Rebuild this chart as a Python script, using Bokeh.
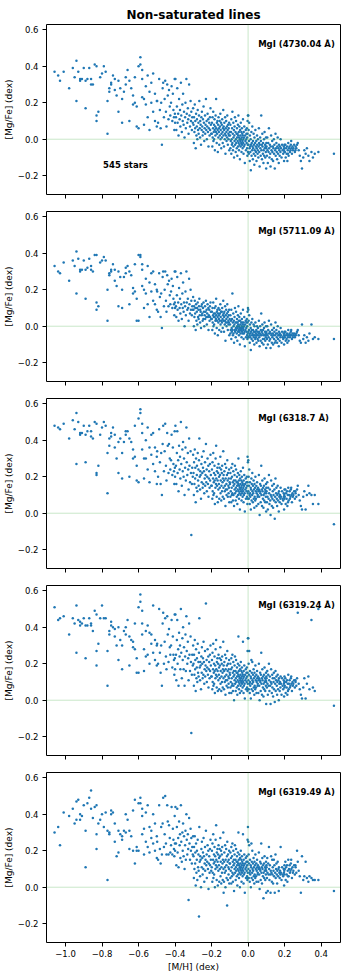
from bokeh.plotting import figure
from bokeh.layouts import column
from bokeh.models import Range1d, FixedTicker, Span, Label
from bokeh.embed import file_html
from bokeh.resources import INLINE

# [M/H] of each star (shared by all panels)
mh = [
    -1.06, -1.04, -1.03, -1.01,
    -0.98, -0.96, -0.95, -0.94, -0.94, -0.93, -0.92, -0.92, -0.91, -0.90,
    -0.89, -0.89, -0.88, -0.87, -0.86, -0.86, -0.85, -0.84, -0.83, -0.83, -0.83, -0.82, -0.81, -0.80,
    -0.79, -0.78, -0.77, -0.77, -0.76, -0.76, -0.75, -0.75, -0.74, -0.73, -0.73, -0.72, -0.71, -0.71, -0.70,
    -0.69, -0.69, -0.68, -0.67, -0.67, -0.66, -0.65, -0.65, -0.64, -0.63, -0.63, -0.62, -0.62, -0.61, -0.61, -0.60,
    -0.60, -0.59, -0.59, -0.58, -0.58, -0.58, -0.57, -0.57, -0.56, -0.56, -0.55, -0.55, -0.54, -0.54, -0.53, -0.53, -0.52, -0.52, -0.51, -0.51, -0.50, -0.50,
    -0.498, -0.493, -0.487, -0.483, -0.479, -0.476, -0.472, -0.468, -0.465, -0.461, -0.457, -0.454, -0.450, -0.447, -0.443, -0.440, -0.436, -0.433, -0.429, -0.426, -0.422, -0.419, -0.415, -0.412, -0.409, -0.406, -0.404, -0.402, -0.401, -0.400,
    -0.398, -0.395, -0.393, -0.390, -0.388, -0.386, -0.383, -0.381, -0.378, -0.375,
    -0.373, -0.371, -0.368, -0.366, -0.363, -0.360, -0.358, -0.356, -0.353, -0.351,
    -0.348, -0.345, -0.343, -0.341, -0.338, -0.336, -0.333, -0.330, -0.328, -0.326,
    -0.323, -0.321, -0.318, -0.315, -0.313, -0.311, -0.308, -0.306, -0.303, -0.301,
    -0.299, -0.297, -0.296, -0.294, -0.292, -0.290, -0.289, -0.287, -0.285, -0.283,
    -0.281, -0.280, -0.278, -0.276, -0.274, -0.272, -0.271, -0.269, -0.267, -0.265,
    -0.263, -0.262, -0.260, -0.258, -0.256, -0.254, -0.253, -0.251, -0.249, -0.247,
    -0.245, -0.244, -0.242, -0.240, -0.238, -0.236, -0.235, -0.233, -0.231, -0.229,
    -0.227, -0.226, -0.224, -0.222, -0.220, -0.218, -0.217, -0.215, -0.213, -0.211,
    -0.209, -0.208, -0.206, -0.204, -0.202,
    -0.199, -0.198, -0.196, -0.195, -0.194, -0.192, -0.191, -0.190, -0.188, -0.187,
    -0.186, -0.184, -0.183, -0.182, -0.180, -0.179, -0.178, -0.176, -0.175, -0.174,
    -0.172, -0.171, -0.170, -0.168, -0.167, -0.166, -0.164, -0.163, -0.162, -0.160,
    -0.159, -0.158, -0.156, -0.155, -0.154, -0.152, -0.151, -0.150, -0.148, -0.147,
    -0.146, -0.144, -0.143, -0.142, -0.140, -0.139, -0.138, -0.136, -0.135, -0.134,
    -0.132, -0.131, -0.130, -0.128, -0.127, -0.126, -0.124, -0.123, -0.122, -0.120,
    -0.119, -0.118, -0.116, -0.115, -0.114, -0.112, -0.111, -0.110, -0.108, -0.107,
    -0.106, -0.105, -0.104, -0.103, -0.101,
    -0.099, -0.097, -0.097, -0.095, -0.094, -0.092, -0.092, -0.090, -0.089, -0.088,
    -0.086, -0.086, -0.084, -0.083, -0.081, -0.080, -0.080, -0.078, -0.077, -0.075,
    -0.074, -0.074, -0.072, -0.071, -0.069, -0.068, -0.067, -0.066, -0.065, -0.063,
    -0.062, -0.061, -0.060, -0.059, -0.058, -0.057, -0.056, -0.055, -0.054, -0.053,
    -0.052, -0.051, -0.050, -0.049, -0.048, -0.047, -0.046, -0.045, -0.044, -0.043,
    -0.042, -0.041, -0.040, -0.039, -0.038, -0.037, -0.036, -0.035, -0.034, -0.033,
    -0.032, -0.031, -0.030, -0.029, -0.028, -0.027, -0.026, -0.025, -0.024, -0.023,
    -0.022, -0.021, -0.019, -0.018, -0.016, -0.015, -0.013, -0.012, -0.010, -0.009,
    -0.008, -0.007, -0.006, -0.005, -0.004, -0.003, -0.003, -0.002, -0.001, -0.001,
    0.001, 0.002, 0.003, 0.004, 0.005, 0.006, 0.008, 0.009, 0.010, 0.011,
    0.012, 0.014, 0.015, 0.016, 0.018, 0.019, 0.020, 0.022, 0.023, 0.024,
    0.026, 0.027, 0.028, 0.030, 0.031, 0.032, 0.034, 0.035, 0.036, 0.038,
    0.039, 0.040, 0.042, 0.043, 0.045, 0.046, 0.047, 0.049, 0.050, 0.052,
    0.053, 0.054, 0.056, 0.057, 0.059, 0.060, 0.061, 0.063, 0.064, 0.066,
    0.067, 0.069, 0.070, 0.072, 0.073, 0.075, 0.076, 0.078, 0.079, 0.081,
    0.082, 0.084, 0.085, 0.087, 0.088, 0.090, 0.091, 0.093, 0.094, 0.096,
    0.097, 0.098, 0.099, 0.099, 0.100,
    0.101, 0.103, 0.105, 0.106, 0.108, 0.110, 0.112, 0.114, 0.115, 0.117,
    0.119, 0.121, 0.123, 0.124, 0.126, 0.128, 0.130, 0.132, 0.133, 0.135,
    0.137, 0.139, 0.141, 0.142, 0.144, 0.146, 0.148, 0.150, 0.151, 0.153,
    0.155, 0.157, 0.159, 0.160, 0.162, 0.164, 0.166, 0.168, 0.169, 0.171,
    0.173, 0.175, 0.177, 0.178, 0.180, 0.183, 0.186, 0.189, 0.192, 0.195,
    0.196, 0.197, 0.198, 0.199, 0.199,
    0.201, 0.204, 0.206, 0.208, 0.211, 0.213, 0.215, 0.217, 0.220, 0.222,
    0.224, 0.227, 0.229, 0.232, 0.234, 0.237, 0.240, 0.243, 0.245, 0.248,
    0.252, 0.256, 0.260, 0.264, 0.268, 0.272, 0.277, 0.283, 0.289, 0.295,
    0.218, 0.236, 0.259,
    0.302, 0.308, 0.315, 0.322, 0.330, 0.336, 0.347, 0.355, 0.365, 0.385,
    0.47,
]

# [Mg/Fe] from MgI 4730.04 A
mgfe_4730 = [
    0.37, 0.35, 0.32, 0.37,
    0.28, 0.39, 0.34, 0.21, 0.43, 0.37, 0.33, 0.32, 0.33, 0.39,
    0.17, 0.32, 0.33, 0.39, 0.30, 0.33, 0.30, 0.41, 0.40, 0.13, 0.10, 0.15, 0.34, 0.36,
    0.40, 0.37, 0.03, 0.21, 0.26, 0.28, 0.30, 0.31, 0.35, 0.27, 0.33, 0.24, 0.15, 0.32, 0.28,
    0.22, 0.09, 0.26, 0.34, 0.30, 0.38, 0.32, 0.10, 0.28, 0.24, 0.19, 0.20, 0.34, 0.18, 0.07, 0.40,
    0.06, 0.45, 0.41, 0.38, 0.33, 0.23, 0.22, 0.08, 0.29, 0.19, 0.35, 0.12, 0.26, 0.05, 0.31, 0.20, 0.15, 0.36, 0.10, 0.25, 0.21, 0.07,
    0.21, 0.09, 0.33, 0.16, 0.06, 0.20, -0.03, 0.28, 0.31, 0.12, 0.22, 0.32, 0.15, 0.07, 0.30, 0.24, 0.11, 0.27, 0.18, 0.13, 0.20, 0.29, 0.10, 0.25, 0.16, 0.12, 0.05, 0.33, 0.14, 0.09,
    0.33, 0.12, 0.05, 0.18, 0.28, 0.09, 0.14, 0.02, 0.22, 0.11,
    0.16, 0.07, 0.31, 0.13, 0.04, 0.19, 0.10, 0.25, 0.08, 0.15,
    0.01, 0.12, 0.20, 0.06, 0.33, 0.14, 0.09, 0.17, 0.11, 0.03,
    0.30, 0.13, 0.07, 0.21, 0.10, 0.15, 0.05, 0.12, 0.09, 0.17,
    0.08, -0.02, 0.12, 0.04, 0.19, 0.06, 0.10, -0.05, 0.14, 0.02,
    0.07, 0.11, 0.00, 0.16, 0.05, 0.09, 0.03, 0.13, 0.21, 0.06,
    0.01, 0.10, 0.08, -0.03, 0.12, 0.05, 0.15, 0.07, 0.02, 0.11,
    0.04, 0.18, 0.09, -0.01, 0.06, 0.13, 0.03, 0.08, 0.22, 0.05,
    0.10, 0.00, 0.07, 0.14, 0.04, 0.11, -0.04, 0.06, 0.09, 0.02,
    0.12, 0.05, 0.17, 0.08, 0.03,
    0.03, 0.09, -0.04, 0.12, 0.01, 0.06, 0.15, -0.01, 0.04, 0.08,
    0.00, 0.11, 0.05, -0.06, 0.07, 0.02, 0.13, 0.04, 0.22, 0.06,
    -0.02, 0.09, 0.03, 0.10, 0.05, -0.07, 0.08, 0.01, 0.12, 0.04,
    0.06, -0.03, 0.10, 0.02, 0.07, 0.14, 0.00, 0.05, 0.09, -0.05,
    0.03, 0.08, 0.01, 0.11, 0.04, -0.02, 0.06, 0.16, 0.02, 0.07,
    -0.04, 0.05, 0.09, 0.00, 0.03, 0.12, -0.08, 0.06, 0.02, 0.10,
    0.04, -0.01, 0.07, 0.01, 0.13, 0.05, -0.03, 0.08, 0.03, 0.00,
    0.06, 0.02, 0.09, -0.06, 0.04,
    0.02, -0.05, 0.08, -0.01, 0.04, -0.08, 0.11, 0.00, -0.03, 0.06,
    0.15, -0.02, 0.03, -0.06, 0.09, 0.01, -0.04, 0.05, -0.10, 0.02,
    0.07, -0.01, 0.12, -0.03, 0.04, -0.07, 0.00, 0.10, -0.02, 0.03,
    -0.05, 0.06, 0.01, -0.09, 0.03, -0.01, 0.08, -0.04, 0.02, 0.13,
    -0.02, 0.04, -0.06, 0.01, 0.07, -0.03, 0.00, -0.11, 0.05, -0.01,
    0.02, -0.04, 0.09, 0.00, -0.02, 0.04, -0.07, 0.01, 0.06, -0.03,
    0.03, -0.01, -0.05, 0.02, 0.11, -0.02, 0.00, -0.08, 0.04, -0.04,
    0.01, 0.07, -0.03, -0.13, 0.02, -0.01, 0.05, -0.06, 0.00, 0.03,
    -0.02, 0.06, -0.05, 0.01, -0.09, 0.03, 0.10, -0.03, 0.13, -0.07,
    0.13, -0.03, 0.05, -0.08, -0.01, 0.09, -0.05, -0.12, 0.02, -0.04,
    -0.07, 0.00, -0.17, -0.03, 0.04, -0.09, -0.02, -0.06, 0.07, -0.04,
    -0.11, -0.01, -0.05, 0.03, -0.08, -0.03, -0.14, 0.01, -0.06, -0.02,
    -0.09, 0.05, -0.04, -0.07, -0.01, -0.12, -0.05, 0.02, -0.03, -0.08,
    -0.06, 0.00, -0.10, -0.04, 0.06, -0.02, -0.07, -0.15, -0.03, 0.01,
    -0.05, -0.09, -0.01, 0.13, -0.06, -0.03, -0.11, 0.03, -0.04, -0.08,
    -0.02, -0.13, -0.06, 0.00, -0.09, 0.04, -0.05, -0.03, -0.10, -0.04,
    -0.07, 0.01, -0.16, -0.05, -0.02,
    -0.04, -0.09, 0.01, -0.06, -0.13, -0.02, -0.07, 0.06, -0.05, -0.10,
    -0.03, -0.08, -0.15, -0.04, 0.02, -0.06, -0.11, -0.01, -0.07, -0.04,
    -0.12, -0.05, 0.00, -0.08, -0.03, -0.16, -0.06, 0.03, -0.09, -0.05,
    -0.02, -0.07, -0.11, -0.04, 0.01, -0.08, -0.05, -0.13, -0.03, -0.06,
    -0.09, -0.04, -0.07, 0.00, -0.05, -0.10, -0.03, -0.06, -0.08, -0.04,
    -0.06, -0.12, -0.05, -0.03, -0.07,
    -0.07, -0.03, -0.10, -0.05, -0.08, -0.04, -0.12, -0.06, -0.02, -0.09,
    -0.05, -0.04, -0.07, -0.06, -0.03, -0.05, -0.08, -0.04, -0.06, -0.05,
    -0.03, -0.07, -0.04, -0.05, -0.03, -0.02, -0.06, -0.09, -0.12, -0.16,
    -0.08, -0.01, -0.06,
    -0.10, -0.06, -0.08, -0.05, -0.09, -0.12, -0.07, -0.10, -0.08, -0.07,
    -0.08,
]

# [Mg/Fe] from MgI 5711.09 A
mgfe_5711 = [
    0.33, 0.30, 0.29, 0.35,
    0.25, 0.36, 0.33, 0.18, 0.41, 0.37, 0.31, 0.30, 0.31, 0.36,
    0.15, 0.31, 0.32, 0.37, 0.31, 0.33, 0.30, 0.39, 0.39, 0.13, 0.09, 0.11, 0.35, 0.36,
    0.38, 0.36, 0.03, 0.20, 0.28, 0.29, 0.30, 0.31, 0.34, 0.25, 0.31, 0.22, 0.11, 0.30, 0.27,
    0.20, 0.10, 0.27, 0.32, 0.29, 0.33, 0.30, 0.12, 0.28, 0.21, 0.18, 0.19, 0.34, 0.15, 0.03, 0.39,
    0.03, 0.39, 0.38, 0.34, 0.31, 0.22, 0.20, 0.10, 0.26, 0.18, 0.33, 0.12, 0.24, 0.05, 0.29, 0.19, 0.14, 0.30, 0.12, 0.23, 0.20, 0.09,
    0.19, 0.08, 0.29, 0.16, 0.05, 0.18, -0.01, 0.27, 0.30, 0.11, 0.20, 0.30, 0.14, 0.08, 0.28, 0.23, 0.11, 0.25, 0.17, 0.12, 0.19, 0.26, 0.10, 0.22, 0.15, 0.12, 0.06, 0.30, 0.13, 0.10,
    0.30, 0.11, 0.05, 0.17, 0.27, 0.09, 0.13, 0.03, 0.21, 0.10,
    0.15, 0.07, 0.29, 0.12, 0.04, 0.18, 0.10, 0.24, 0.08, 0.13,
    0.00, 0.11, 0.19, 0.06, 0.30, 0.13, 0.09, 0.15, 0.10, 0.03,
    0.26, 0.12, 0.07, 0.20, 0.09, 0.14, 0.06, 0.11, 0.09, 0.16,
    0.09, 0.00, 0.11, 0.05, 0.14, 0.07, 0.10, -0.02, 0.12, 0.03,
    0.08, 0.10, 0.01, 0.13, 0.05, 0.09, 0.04, 0.11, 0.15, 0.06,
    0.02, 0.09, 0.08, -0.01, 0.11, 0.06, 0.12, 0.07, 0.03, 0.10,
    0.04, 0.13, 0.08, 0.00, 0.06, 0.11, 0.04, 0.08, 0.14, 0.05,
    0.09, 0.01, 0.07, 0.12, 0.05, 0.10, -0.02, 0.06, 0.09, 0.03,
    0.11, 0.05, 0.13, 0.08, 0.04,
    0.04, 0.08, -0.02, 0.10, 0.02, 0.06, 0.13, 0.00, 0.05, 0.07,
    0.01, 0.10, 0.05, -0.04, 0.07, 0.03, 0.11, 0.04, 0.15, 0.06,
    -0.01, 0.08, 0.03, 0.09, 0.05, -0.05, 0.07, 0.02, 0.10, 0.04,
    0.06, -0.02, 0.09, 0.03, 0.07, 0.12, 0.01, 0.05, 0.08, -0.03,
    0.03, 0.08, 0.02, 0.10, 0.04, -0.01, 0.06, 0.14, 0.03, 0.07,
    -0.03, 0.05, 0.08, 0.01, 0.03, 0.11, -0.08, 0.06, 0.02, 0.09,
    0.04, 0.00, 0.07, 0.02, 0.12, 0.05, -0.02, 0.08, 0.03, 0.01,
    0.06, 0.02, 0.09, -0.05, 0.04,
    0.01, -0.04, 0.06, -0.02, 0.03, -0.07, 0.09, -0.01, -0.03, 0.04,
    0.18, -0.02, 0.02, -0.05, 0.07, 0.00, -0.04, 0.03, -0.09, 0.01,
    0.05, -0.02, 0.10, -0.03, 0.02, -0.06, -0.01, 0.08, -0.02, 0.02,
    -0.04, 0.04, 0.00, -0.08, 0.02, -0.01, 0.06, -0.03, 0.01, 0.11,
    -0.02, 0.03, -0.05, 0.00, 0.05, -0.03, -0.01, -0.10, 0.03, -0.02,
    0.01, -0.04, 0.07, -0.01, -0.02, 0.02, -0.06, 0.00, 0.04, -0.03,
    0.02, -0.01, -0.04, 0.01, 0.09, -0.02, -0.01, -0.07, 0.02, -0.04,
    0.00, 0.05, -0.03, -0.11, 0.01, -0.02, 0.03, -0.06, -0.01, 0.02,
    -0.03, 0.04, -0.05, 0.00, -0.07, 0.02, 0.08, -0.04, 0.10, -0.06,
    0.09, -0.03, 0.03, -0.06, -0.02, 0.06, -0.05, -0.09, 0.01, -0.04,
    -0.06, -0.01, -0.13, -0.03, 0.02, -0.07, -0.02, -0.05, 0.04, -0.04,
    -0.08, -0.02, -0.05, 0.01, -0.06, -0.03, -0.10, 0.00, -0.05, -0.03,
    -0.07, 0.02, -0.04, -0.06, -0.02, -0.09, -0.05, 0.00, -0.03, -0.07,
    -0.05, -0.01, -0.08, -0.04, 0.03, -0.03, -0.06, -0.11, -0.04, 0.00,
    -0.05, -0.08, -0.02, 0.07, -0.05, -0.03, -0.09, 0.01, -0.04, -0.07,
    -0.02, -0.10, -0.05, -0.01, -0.07, 0.02, -0.05, -0.03, -0.08, -0.04,
    -0.06, 0.00, -0.12, -0.05, -0.03,
    -0.04, -0.07, 0.00, -0.05, -0.10, -0.02, -0.06, 0.03, -0.04, -0.08,
    -0.03, -0.07, -0.12, -0.04, 0.01, -0.05, -0.09, -0.02, -0.06, -0.04,
    -0.10, -0.05, -0.01, -0.07, -0.03, -0.09, -0.05, 0.02, -0.08, -0.04,
    -0.02, -0.06, -0.09, -0.04, 0.00, -0.07, -0.05, -0.11, -0.03, -0.05,
    -0.08, -0.04, -0.06, -0.01, -0.05, -0.09, -0.03, -0.06, -0.07, -0.04,
    -0.05, -0.10, -0.04, -0.03, -0.06,
    -0.06, -0.03, -0.08, -0.05, -0.07, -0.04, -0.09, -0.05, -0.02, -0.08,
    -0.05, -0.04, -0.06, -0.05, -0.03, -0.05, -0.07, -0.04, -0.06, -0.05,
    -0.04, -0.06, -0.05, -0.04, -0.03, -0.02, -0.05, -0.08, -0.09, 0.01,
    -0.06, -0.02, -0.05,
    -0.07, -0.05, -0.09, -0.06, -0.08, -0.04, 0.01, -0.07, -0.06, -0.07,
    -0.07,
]

# [Mg/Fe] from MgI 6318.7 A
mgfe_6318 = [
    0.48, 0.47, 0.46, 0.49,
    0.41, 0.51, 0.46, 0.27, 0.55, 0.50, 0.43, 0.44, 0.44, 0.48,
    0.28, 0.43, 0.45, 0.48, 0.42, 0.45, 0.41, 0.50, 0.49, 0.22, 0.21, 0.26, 0.43, 0.47,
    0.50, 0.48, 0.11, 0.33, 0.37, 0.41, 0.42, 0.44, 0.47, 0.36, 0.43, 0.30, 0.22, 0.39, 0.41,
    0.33, 0.19, 0.39, 0.45, 0.43, 0.45, 0.41, 0.20, 0.39, 0.35, 0.30, 0.31, 0.48, 0.26, 0.18, 0.52,
    0.17, 0.57, 0.55, 0.49, 0.44, 0.35, 0.30, 0.19, 0.40, 0.30, 0.47, 0.24, 0.36, 0.17, 0.43, 0.32, 0.27, 0.44, 0.23, 0.36, 0.31, 0.16,
    0.34, 0.20, 0.46, 0.28, 0.16, 0.33, 0.10, 0.38, 0.48, 0.23, 0.34, 0.49, 0.26, 0.18, 0.44, 0.37, 0.22, 0.38, 0.30, 0.24, 0.29, 0.43, 0.21, 0.36, 0.27, 0.23, 0.16, 0.45, 0.25, 0.20,
    0.48, 0.26, 0.16, 0.33, 0.45, 0.22, 0.29, 0.12, 0.37, 0.24,
    0.31, 0.19, 0.50, 0.27, 0.15, 0.35, 0.23, 0.39, 0.20, 0.30,
    0.10, 0.25, 0.36, 0.18, 0.47, 0.28, 0.21, 0.33, 0.24, 0.13,
    0.41, 0.26, 0.17, 0.34, 0.22, -0.12, 0.16, 0.25, 0.20, 0.32,
    0.22, 0.10, 0.28, 0.16, 0.35, 0.19, 0.25, 0.06, 0.30, 0.14,
    0.21, 0.26, 0.12, 0.33, 0.18, 0.24, 0.15, 0.29, 0.41, 0.20,
    0.13, 0.23, 0.21, 0.08, 0.27, 0.17, 0.31, 0.22, 0.14, 0.25,
    0.16, 0.34, 0.23, 0.11, 0.19, 0.28, 0.15, 0.21, 0.38, 0.17,
    0.24, 0.12, 0.20, 0.30, 0.16, 0.26, 0.09, 0.19, 0.23, 0.14,
    0.27, 0.18, 0.32, 0.21, 0.15,
    0.15, 0.24, 0.08, 0.28, 0.12, 0.19, 0.33, 0.10, 0.17, 0.22,
    0.11, 0.26, 0.18, 0.05, 0.21, 0.14, 0.30, 0.16, 0.37, 0.19,
    0.09, 0.23, 0.15, 0.25, 0.18, 0.06, 0.22, 0.13, 0.27, 0.16,
    0.20, 0.08, 0.25, 0.14, 0.21, 0.31, 0.11, 0.18, 0.24, 0.07,
    0.15, 0.22, 0.12, 0.26, 0.17, 0.09, 0.19, 0.34, 0.14, 0.21,
    0.08, 0.18, 0.23, 0.12, 0.15, 0.27, 0.04, 0.19, 0.13, 0.25,
    0.16, 0.10, 0.21, 0.13, 0.29, 0.18, 0.09, 0.22, 0.15, 0.11,
    0.19, 0.14, 0.24, 0.06, 0.17,
    0.16, 0.09, 0.22, 0.12, 0.19, 0.06, 0.25, 0.14, 0.10, 0.20,
    0.27, 0.11, 0.17, 0.07, 0.23, 0.15, 0.10, 0.18, 0.04, 0.16,
    0.21, 0.13, 0.26, 0.11, 0.18, 0.07, 0.14, 0.24, 0.12, 0.17,
    0.09, 0.20, 0.15, 0.05, 0.17, 0.13, 0.22, 0.10, 0.16, 0.30,
    0.12, 0.18, 0.08, 0.15, 0.21, 0.11, 0.14, 0.02, 0.19, 0.13,
    0.16, 0.10, 0.23, 0.14, 0.12, 0.18, 0.07, 0.15, 0.20, 0.11,
    0.17, 0.13, 0.09, 0.16, 0.25, 0.12, 0.14, 0.06, 0.18, 0.10,
    0.15, 0.21, 0.11, 0.01, 0.16, 0.13, 0.19, 0.08, 0.14, 0.17,
    0.12, 0.20, 0.09, 0.15, 0.05, 0.17, 0.31, 0.11, 0.28, 0.08,
    0.29, 0.12, 0.20, 0.08, 0.15, 0.24, 0.10, 0.05, 0.17, 0.11,
    0.09, 0.14, 0.02, 0.13, 0.19, 0.07, 0.16, 0.10, 0.22, 0.12,
    0.06, 0.15, 0.11, 0.18, 0.08, 0.13, 0.03, 0.16, 0.09, 0.14,
    0.07, 0.20, 0.12, 0.08, 0.15, 0.04, 0.11, 0.17, 0.13, 0.09,
    0.10, 0.14, 0.05, 0.12, 0.21, 0.13, 0.09, -0.01, 0.12, 0.16,
    0.11, 0.06, 0.15, 0.26, 0.10, 0.13, 0.04, 0.18, 0.12, 0.08,
    0.14, 0.03, 0.10, 0.15, 0.07, 0.19, 0.11, 0.13, 0.06, 0.12,
    0.09, 0.16, 0.01, 0.11, 0.14,
    0.12, 0.06, 0.17, 0.09, 0.02, 0.14, 0.08, 0.21, 0.11, 0.05,
    0.13, 0.07, -0.01, 0.10, 0.18, 0.09, 0.04, 0.15, 0.08, 0.12,
    0.03, 0.10, 0.16, 0.07, 0.13, -0.03, 0.09, 0.19, 0.06, 0.11,
    0.14, 0.08, 0.04, 0.10, 0.15, 0.07, 0.11, 0.01, 0.12, 0.09,
    0.06, 0.10, 0.08, 0.14, 0.09, 0.05, 0.12, 0.08, 0.07, 0.11,
    0.09, 0.02, 0.10, 0.13, 0.08,
    0.09, 0.13, 0.05, 0.11, 0.08, 0.12, 0.04, 0.10, 0.14, 0.07,
    0.10, 0.12, 0.08, 0.09, 0.13, 0.10, 0.06, 0.11, 0.09, 0.10,
    0.12, 0.08, 0.11, 0.09, 0.13, 0.15, 0.10, 0.07, 0.04, 0.02,
    0.06, 0.14, 0.12,
    0.09, 0.12, 0.02, 0.10, 0.15, 0.11, 0.10, 0.05, 0.10, 0.05,
    -0.06,
]

# [Mg/Fe] from MgI 6319.24 A
mgfe_631924 = [
    0.51, 0.44, 0.45, 0.46,
    0.36, 0.45, 0.42, 0.26, 0.52, 0.44, 0.43, 0.41, 0.42, 0.45,
    0.23, 0.41, 0.41, 0.45, 0.41, 0.42, 0.38, 0.49, 0.47, 0.19, 0.27, 0.31, 0.45, 0.52,
    0.45, 0.45, 0.08, 0.27, 0.36, 0.38, 0.41, 0.43, 0.40, 0.35, 0.39, 0.30, 0.22, 0.40, 0.33,
    0.30, 0.17, 0.38, 0.40, 0.36, 0.44, 0.35, 0.19, 0.33, 0.32, 0.29, 0.28, 0.42, 0.23, 0.15, 0.51,
    0.15, 0.58, 0.54, 0.49, 0.42, 0.36, 0.28, 0.16, 0.38, 0.24, 0.41, 0.25, 0.37, 0.20, 0.36, 0.31, 0.26, 0.52, 0.22, 0.33, 0.30, 0.19,
    0.31, 0.20, 0.50, 0.26, 0.15, 0.30, 0.08, 0.42, 0.48, 0.20, 0.32, 0.45, 0.24, 0.17, 0.46, 0.36, 0.21, 0.39, 0.29, 0.25, 0.30, 0.44, 0.18, 0.35, 0.25, 0.22, 0.14, 0.47, 0.23, 0.17,
    0.47, 0.25, 0.11, 0.33, 0.44, 0.20, 0.28, 0.08, 0.37, 0.24,
    0.30, 0.17, 0.50, 0.26, 0.12, 0.34, 0.22, 0.40, 0.17, 0.29,
    0.08, 0.24, 0.36, 0.16, 0.46, 0.27, 0.20, 0.32, 0.23, 0.11,
    0.42, 0.25, 0.16, 0.35, 0.21, -0.18, 0.14, 0.25, 0.19, 0.30,
    0.20, 0.08, 0.25, 0.14, 0.33, 0.17, 0.22, 0.05, 0.28, 0.12,
    0.18, 0.23, 0.10, 0.31, 0.15, 0.21, 0.13, 0.26, 0.45, 0.18,
    0.11, 0.21, 0.19, 0.06, 0.24, 0.15, 0.29, 0.20, 0.12, 0.23,
    0.14, 0.32, 0.21, 0.09, 0.17, 0.27, 0.13, 0.19, 0.53, 0.16,
    0.22, 0.10, 0.18, 0.28, 0.14, 0.24, 0.07, 0.17, 0.21, 0.12,
    0.25, 0.16, 0.30, 0.19, 0.13,
    0.13, 0.22, 0.06, 0.26, 0.10, 0.17, 0.31, 0.08, 0.15, 0.20,
    0.09, 0.24, 0.16, 0.04, 0.19, 0.12, 0.28, 0.14, 0.33, 0.17,
    0.07, 0.21, 0.13, 0.23, 0.16, 0.05, 0.20, 0.11, 0.25, 0.14,
    0.18, 0.06, 0.23, 0.12, 0.19, 0.29, 0.09, 0.16, 0.22, 0.05,
    0.13, 0.20, 0.10, 0.24, 0.15, 0.07, 0.17, 0.32, 0.12, 0.19,
    0.06, 0.16, 0.21, 0.10, 0.13, 0.25, 0.03, 0.17, 0.11, 0.23,
    0.14, 0.08, 0.19, 0.11, 0.27, 0.16, 0.07, 0.20, 0.13, 0.09,
    0.17, 0.12, 0.22, 0.04, 0.15,
    0.14, 0.07, 0.20, 0.10, 0.17, 0.04, 0.23, 0.12, 0.08, 0.18,
    0.25, 0.09, 0.15, 0.05, 0.21, 0.13, 0.08, 0.16, 0.00, 0.14,
    0.19, 0.11, 0.24, 0.09, 0.16, 0.05, 0.12, 0.22, 0.10, 0.15,
    0.07, 0.18, 0.13, 0.03, 0.15, 0.11, 0.20, 0.08, 0.14, 0.35,
    0.10, 0.16, 0.06, 0.13, 0.19, 0.09, 0.12, 0.04, 0.17, 0.11,
    0.14, 0.08, 0.21, 0.12, 0.10, 0.16, 0.05, 0.13, 0.18, 0.09,
    0.15, 0.11, 0.07, 0.14, 0.32, 0.10, 0.12, 0.04, 0.16, 0.08,
    0.13, 0.19, 0.09, 0.01, 0.14, 0.11, 0.17, 0.06, 0.12, 0.15,
    0.10, 0.18, 0.07, 0.13, 0.05, 0.15, 0.27, 0.09, 0.34, 0.06,
    0.34, 0.11, 0.20, 0.06, 0.14, 0.27, 0.09, 0.04, 0.16, 0.10,
    0.08, 0.13, 0.01, 0.12, 0.22, 0.06, 0.15, 0.09, 0.21, 0.11,
    0.05, 0.14, 0.10, 0.17, 0.07, 0.12, 0.03, 0.15, 0.08, 0.13,
    0.06, 0.19, 0.11, 0.07, 0.14, 0.04, 0.10, 0.16, 0.12, 0.08,
    0.09, 0.13, 0.04, 0.11, 0.20, 0.12, 0.08, 0.00, 0.11, 0.15,
    0.10, 0.05, 0.14, 0.26, 0.09, 0.12, 0.03, 0.17, 0.11, 0.07,
    0.13, 0.02, 0.09, 0.14, 0.06, 0.18, 0.10, 0.12, 0.05, 0.11,
    0.08, 0.15, -0.02, 0.10, 0.13,
    0.12, 0.07, 0.16, 0.09, 0.03, 0.14, 0.08, 0.20, 0.11, 0.05,
    0.13, 0.08, -0.02, 0.10, 0.17, 0.09, 0.04, 0.14, 0.07, 0.12,
    0.02, 0.10, 0.15, 0.06, 0.12, -0.01, 0.09, 0.16, 0.05, 0.11,
    0.13, 0.08, 0.03, 0.10, 0.14, 0.06, 0.11, 0.00, 0.12, 0.09,
    0.05, 0.10, 0.07, 0.13, 0.09, 0.03, 0.12, 0.08, 0.06, 0.11,
    0.09, 0.02, 0.10, 0.13, 0.07,
    0.08, 0.12, 0.04, 0.10, 0.07, 0.11, 0.03, 0.09, 0.14, 0.06,
    0.09, 0.11, 0.07, 0.08, 0.12, 0.09, 0.05, 0.10, 0.08, 0.09,
    0.11, 0.07, 0.10, 0.08, 0.12, 0.48, 0.09, 0.06, 0.03, 0.01,
    0.05, 0.13, 0.11,
    0.07, 0.12, 0.01, 0.09, 0.13, 0.06, 0.44, 0.07, 0.05, 0.50,
    -0.03,
]

# [Mg/Fe] from MgI 6319.49 A
mgfe_631949 = [
    0.30, 0.33, 0.23, 0.41,
    0.39, 0.43, 0.35, 0.37, 0.47, 0.48, 0.37, 0.40, 0.39, 0.45,
    0.11, 0.31, 0.46, 0.49, 0.53, 0.43, 0.38, 0.44, 0.45, 0.21, 0.29, 0.35, 0.37, 0.40,
    0.33, 0.41, 0.04, 0.31, 0.30, 0.29, 0.42, 0.40, 0.41, 0.25, 0.35, 0.17, 0.19, 0.31, 0.29,
    0.28, 0.26, 0.31, 0.40, 0.30, 0.37, 0.31, 0.21, 0.28, 0.42, 0.20, 0.13, 0.48, 0.20, 0.22, 0.46,
    0.20, 0.49, 0.46, 0.43, 0.39, 0.29, 0.32, 0.18, 0.41, 0.25, 0.45, 0.22, 0.33, 0.19, 0.31, 0.27, 0.24, 0.40, 0.20, 0.35, 0.28, 0.16,
    0.25, 0.15, 0.45, 0.21, 0.13, 0.33, 0.18, 0.35, 0.49, 0.22, 0.29, 0.50, 0.24, 0.18, 0.45, 0.36, 0.18, 0.34, 0.27, 0.19, 0.23, 0.44, 0.18, 0.32, 0.26, 0.21, 0.17, 0.39, 0.24, 0.20,
    0.44, 0.24, 0.12, 0.33, 0.43, 0.19, 0.27, 0.11, 0.36, 0.23,
    0.29, 0.16, 0.45, 0.25, 0.14, 0.30, 0.20, 0.35, 0.17, 0.28,
    0.10, 0.23, 0.31, 0.15, 0.40, 0.26, 0.18, 0.29, 0.21, -0.07,
    0.38, 0.24, 0.15, 0.32, 0.20, 0.27, 0.13, 0.22, 0.18, 0.28,
    0.17, 0.05, 0.22, 0.10, 0.28, 0.13, 0.19, 0.01, 0.24, 0.08,
    0.15, 0.20, 0.04, 0.26, 0.11, 0.18, 0.09, -0.16, 0.33, 0.14,
    0.06, 0.17, 0.15, 0.00, 0.21, 0.11, 0.25, 0.16, 0.07, 0.19,
    0.10, 0.27, 0.17, 0.03, 0.13, 0.22, 0.09, 0.15, 0.31, 0.12,
    0.18, 0.05, 0.14, 0.23, 0.10, 0.20, -0.01, 0.13, 0.17, 0.08,
    0.21, 0.12, 0.26, 0.15, 0.09,
    0.11, 0.20, 0.03, 0.24, 0.08, 0.15, 0.29, 0.05, 0.13, 0.18,
    0.07, 0.22, 0.14, 0.00, 0.17, 0.10, 0.26, 0.12, 0.34, 0.15,
    0.04, 0.19, 0.11, 0.21, 0.14, 0.01, 0.18, 0.09, 0.23, 0.12,
    0.16, 0.03, 0.21, 0.10, 0.17, 0.27, 0.06, 0.14, 0.20, 0.02,
    0.11, 0.18, 0.08, 0.22, 0.13, 0.04, 0.15, 0.30, 0.10, -0.03,
    0.03, 0.14, 0.19, 0.08, 0.11, 0.23, 0.00, 0.15, 0.09, 0.21,
    0.12, 0.05, 0.17, -0.10, 0.25, 0.14, 0.04, 0.18, 0.11, 0.07,
    0.15, 0.10, 0.20, 0.02, 0.13,
    0.13, 0.05, 0.19, 0.09, 0.16, 0.02, 0.22, 0.11, 0.06, 0.17,
    0.24, 0.08, 0.14, 0.03, 0.20, 0.12, 0.07, 0.15, -0.02, 0.13,
    0.18, 0.10, 0.23, 0.08, 0.15, 0.04, 0.11, 0.21, 0.09, 0.14,
    0.06, 0.17, 0.12, 0.01, 0.14, 0.10, 0.19, 0.07, 0.13, 0.30,
    0.09, 0.15, 0.05, 0.12, 0.18, 0.08, 0.11, 0.00, 0.16, 0.10,
    0.13, 0.07, 0.20, 0.11, 0.09, 0.15, 0.03, 0.12, 0.17, 0.08,
    0.14, 0.10, 0.06, 0.13, 0.29, 0.09, 0.11, 0.02, 0.15, 0.07,
    0.12, 0.18, 0.08, -0.03, 0.13, 0.10, 0.16, 0.05, 0.11, 0.14,
    0.09, 0.17, 0.06, 0.12, 0.04, 0.14, 0.26, 0.08, 0.33, 0.05,
    0.25, 0.10, 0.18, 0.05, 0.13, 0.23, 0.08, 0.03, 0.15, 0.09,
    0.07, 0.12, 0.00, 0.11, 0.24, 0.05, 0.14, 0.08, 0.20, 0.10,
    0.04, 0.13, 0.09, 0.16, 0.06, 0.11, 0.02, 0.14, 0.07, 0.12,
    0.05, 0.18, 0.10, 0.06, 0.13, 0.03, 0.09, 0.15, 0.11, 0.07,
    0.08, 0.12, 0.03, 0.10, 0.19, 0.11, 0.07, -0.01, 0.10, 0.14,
    0.09, 0.04, 0.13, 0.24, 0.08, 0.11, 0.02, 0.16, 0.10, 0.06,
    0.12, -0.06, 0.08, 0.13, 0.05, 0.17, 0.09, 0.11, 0.04, 0.10,
    0.07, 0.14, -0.03, 0.09, 0.12,
    0.11, 0.05, 0.16, 0.08, -0.02, 0.13, 0.07, 0.22, 0.10, 0.04,
    0.12, 0.07, -0.03, 0.09, 0.17, 0.08, 0.03, 0.15, 0.07, 0.11,
    0.02, 0.09, 0.15, 0.06, 0.12, -0.03, 0.08, 0.18, 0.05, 0.10,
    0.13, 0.07, 0.02, 0.09, 0.14, 0.06, 0.10, -0.02, 0.11, 0.08,
    0.05, 0.09, 0.07, 0.22, 0.08, 0.04, 0.11, 0.07, 0.06, 0.10,
    0.08, 0.01, 0.09, 0.12, 0.07,
    0.10, 0.14, 0.04, 0.11, 0.07, 0.12, 0.03, 0.09, 0.15, 0.06,
    0.10, 0.12, 0.08, 0.09, 0.13, 0.10, 0.05, 0.11, 0.08, 0.09,
    0.12, 0.07, 0.11, 0.08, 0.20, 0.14, 0.09, 0.06, -0.03, 0.17,
    0.06, 0.15, 0.12,
    0.04, 0.06, 0.14, 0.05, 0.03, 0.06, 0.05, 0.04, 0.04, 0.04,
    -0.02,
]

line_names = ["MgI (4730.04 Å)", "MgI (5711.09 Å)", "MgI (6318.7 Å)",
              "MgI (6319.24 Å)", "MgI (6319.49 Å)"]
series = [mgfe_4730, mgfe_5711, mgfe_6318, mgfe_631924, mgfe_631949]

x_ticks = [-1.0, -0.8, -0.6, -0.4, -0.2, 0.0, 0.2, 0.4]
x_tick_labels = ["−1.0", "−0.8", "−0.6", "−0.4", "−0.2", "0.0", "0.2", "0.4"]
y_ticks = [-0.2, 0.0, 0.2, 0.4, 0.6]
y_tick_labels = ["−0.2", "0.0", "0.2", "0.4", "0.6"]
title_text = "Non-saturated lines"
x_label = "[M/H] (dex)"
y_label = "[Mg/Fe] (dex)"

for s in series:
    if len(s) != len(mh):
        raise ValueError(f"length mismatch {len(s)} vs {len(mh)}")

FONT = "DejaVu Sans"
BLUE = "#1f77b4"
GUIDE = "#2ca02c"

figs = []
n = len(series)
for i, (name, ys) in enumerate(zip(line_names, series)):
    first = i == 0
    last = i == n - 1
    top = 24 if first else 10
    bottom = 33 if last else 7
    kw = dict(width=348, height=top + 170 + bottom,
              x_range=Range1d(-1.104, 0.506), y_range=Range1d(-0.303, 0.629),
              output_backend="svg", toolbar_location=None,
              min_border_left=45, min_border_right=8,
              min_border_top=top, min_border_bottom=bottom)
    if first:
        kw["title"] = title_text
    p = figure(**kw)
    if first:
        p.title.text_font = FONT
        p.title.text_font_size = "12px"
        p.title.text_font_style = "bold"
        p.title.text_color = "black"
        p.title.align = "center"
        p.title.standoff = 6
        p.title.offset = 0
    p.background_fill_color = "white"
    p.border_fill_color = "white"
    p.outline_line_color = "black"
    p.outline_line_width = 1
    p.outline_line_alpha = 1
    p.xgrid.visible = False
    p.ygrid.visible = False

    p.xaxis.ticker = FixedTicker(ticks=x_ticks)
    p.xaxis.major_label_overrides = dict(zip(x_ticks, x_tick_labels))
    p.yaxis.ticker = FixedTicker(ticks=y_ticks)
    p.yaxis.major_label_overrides = dict(zip(y_ticks, y_tick_labels))
    for ax in (p.xaxis, p.yaxis):
        ax.axis_line_color = None
        ax.minor_tick_line_color = None
        ax.major_tick_out = 4
        ax.major_tick_in = 0
        ax.major_tick_line_color = "black"
        ax.major_label_text_font = FONT
        ax.major_label_text_font_size = "8.5px"
        ax.major_label_text_color = "black"
        ax.axis_label_text_font = FONT
        ax.axis_label_text_font_size = "9px"
        ax.axis_label_text_font_style = "normal"
        ax.axis_label_text_color = "black"
    p.yaxis.major_label_standoff = 4
    p.yaxis.axis_label_standoff = 1
    p.xaxis.major_label_standoff = 3
    p.xaxis.axis_label_standoff = 2
    p.yaxis.axis_label = y_label
    if last:
        p.xaxis.axis_label = x_label
    else:
        # shared x axis: tick marks only, labels shown on the bottom panel
        p.xaxis.major_label_text_alpha = 0
        p.xaxis.major_label_standoff = 0

    p.add_layout(Span(location=0, dimension="width", line_color=GUIDE,
                      line_alpha=0.5, line_width=1, line_dash="1 1"))
    p.add_layout(Span(location=0, dimension="height", line_color=GUIDE,
                      line_alpha=0.5, line_width=1, line_dash="1 1"))

    p.scatter(mh, ys, marker="circle", size=2.5, fill_color=BLUE,
              line_color=None)

    p.add_layout(Label(x=0.055, y=0.52, text=name, text_font=FONT,
                       text_font_size="8.5px", text_font_style="bold",
                       text_baseline="middle", text_align="left",
                       text_color="black"))
    if first:
        p.add_layout(Label(x=-0.794, y=-0.139, text=f"{len(mh)} stars",
                           text_font=FONT, text_font_size="8.5px",
                           text_font_style="bold", text_baseline="middle",
                           text_align="left", text_color="black"))
    figs.append(p)

layout = column(*figs, spacing=0)
open("out.html", "w").write(file_html(layout, INLINE))
